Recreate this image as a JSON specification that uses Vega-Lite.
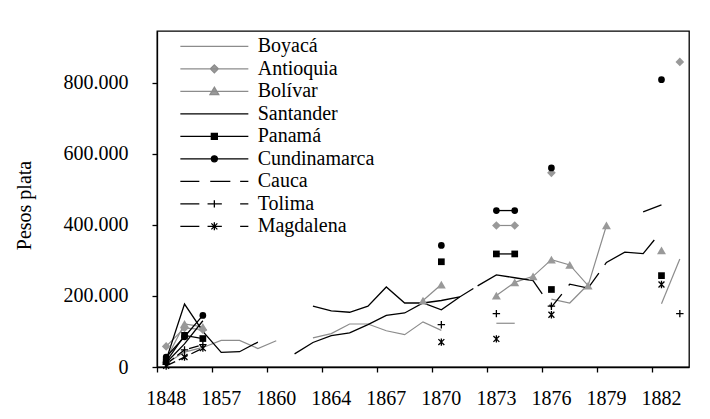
{
  "$schema": "https://vega.github.io/schema/vega-lite/v6.json",
  "width": 532,
  "height": 336,
  "autosize": "none",
  "padding": {"left": 157, "top": 31, "right": 21, "bottom": 52},
  "background": "#ffffff",
  "config": {
    "font": "Liberation Serif",
    "locale": {"number": {"decimal": ",", "thousands": ".", "grouping": [3], "currency": ["$", ""]}},
    "view": {"stroke": "#000000", "strokeWidth": 1.3},
    "axis": {
      "domainColor": "#000000", "tickColor": "#000000", "labelColor": "#000000", "titleColor": "#000000",
      "labelFont": "Liberation Serif", "titleFont": "Liberation Serif",
      "labelFontSize": 20, "titleFontSize": 20, "titleFontWeight": "normal",
      "grid": false, "tickSize": 5, "domainWidth": 1.3, "tickWidth": 1.3
    }
  },
  "data": {"values": [
    {"estado": "Boyacá", "anio": "1848", "valor": 10000, "tramo": 1},
    {"estado": "Boyacá", "anio": "1851", "valor": 42000, "tramo": 1},
    {"estado": "Boyacá", "anio": "1854", "valor": 55000, "tramo": 1},
    {"estado": "Boyacá", "anio": "1857", "valor": 75000, "tramo": 1},
    {"estado": "Boyacá", "anio": "1858", "valor": 75000, "tramo": 1},
    {"estado": "Boyacá", "anio": "1859", "valor": 52000, "tramo": 1},
    {"estado": "Boyacá", "anio": "1860", "valor": 74000, "tramo": 1},
    {"estado": "Boyacá", "anio": "1863", "valor": 82000, "tramo": 2},
    {"estado": "Boyacá", "anio": "1864", "valor": 94000, "tramo": 2},
    {"estado": "Boyacá", "anio": "1865", "valor": 121000, "tramo": 2},
    {"estado": "Boyacá", "anio": "1866", "valor": 121000, "tramo": 2},
    {"estado": "Boyacá", "anio": "1867", "valor": 102000, "tramo": 2},
    {"estado": "Boyacá", "anio": "1868", "valor": 91000, "tramo": 2},
    {"estado": "Boyacá", "anio": "1869", "valor": 127000, "tramo": 2},
    {"estado": "Boyacá", "anio": "1870", "valor": 103000, "tramo": 2},
    {"estado": "Boyacá", "anio": "1873", "valor": 123000, "tramo": 3},
    {"estado": "Boyacá", "anio": "1874", "valor": 123000, "tramo": 3},
    {"estado": "Boyacá", "anio": "1876", "valor": 191000, "tramo": 4},
    {"estado": "Boyacá", "anio": "1877", "valor": 180000, "tramo": 4},
    {"estado": "Boyacá", "anio": "1878", "valor": 232000, "tramo": 4},
    {"estado": "Boyacá", "anio": "1882", "valor": 178000, "tramo": 5},
    {"estado": "Boyacá", "anio": "1883", "valor": 304000, "tramo": 5},
    {"estado": "Antioquia", "anio": "1848", "valor": 58000, "tramo": 1},
    {"estado": "Antioquia", "anio": "1851", "valor": 110000, "tramo": 1},
    {"estado": "Antioquia", "anio": "1854", "valor": 105000, "tramo": 1},
    {"estado": "Antioquia", "anio": "1873", "valor": 398000, "tramo": 2},
    {"estado": "Antioquia", "anio": "1874", "valor": 398000, "tramo": 2},
    {"estado": "Antioquia", "anio": "1876", "valor": 546000, "tramo": 3},
    {"estado": "Antioquia", "anio": "1883", "valor": 858000, "tramo": 4},
    {"estado": "Bolívar", "anio": "1848", "valor": 22000, "tramo": 1},
    {"estado": "Bolívar", "anio": "1851", "valor": 121000, "tramo": 1},
    {"estado": "Bolívar", "anio": "1854", "valor": 113000, "tramo": 1},
    {"estado": "Bolívar", "anio": "1869", "valor": 187000, "tramo": 2},
    {"estado": "Bolívar", "anio": "1870", "valor": 232000, "tramo": 2},
    {"estado": "Bolívar", "anio": "1873", "valor": 201000, "tramo": 3},
    {"estado": "Bolívar", "anio": "1874", "valor": 238000, "tramo": 3},
    {"estado": "Bolívar", "anio": "1875", "valor": 255000, "tramo": 3},
    {"estado": "Bolívar", "anio": "1876", "valor": 302000, "tramo": 3},
    {"estado": "Bolívar", "anio": "1877", "valor": 287000, "tramo": 3},
    {"estado": "Bolívar", "anio": "1878", "valor": 229000, "tramo": 3},
    {"estado": "Bolívar", "anio": "1879", "valor": 398000, "tramo": 3},
    {"estado": "Bolívar", "anio": "1882", "valor": 328000, "tramo": 4},
    {"estado": "Santander", "anio": "1848", "valor": 20000, "tramo": 1},
    {"estado": "Santander", "anio": "1851", "valor": 177000, "tramo": 1},
    {"estado": "Santander", "anio": "1854", "valor": 100000, "tramo": 1},
    {"estado": "Santander", "anio": "1857", "valor": 41000, "tramo": 1},
    {"estado": "Santander", "anio": "1858", "valor": 43000, "tramo": 1},
    {"estado": "Santander", "anio": "1859", "valor": 70000, "tramo": 1},
    {"estado": "Santander", "anio": "1863", "valor": 171000, "tramo": 2},
    {"estado": "Santander", "anio": "1864", "valor": 158000, "tramo": 2},
    {"estado": "Santander", "anio": "1865", "valor": 154000, "tramo": 2},
    {"estado": "Santander", "anio": "1866", "valor": 171000, "tramo": 2},
    {"estado": "Santander", "anio": "1867", "valor": 225000, "tramo": 2},
    {"estado": "Santander", "anio": "1868", "valor": 180000, "tramo": 2},
    {"estado": "Santander", "anio": "1869", "valor": 180000, "tramo": 2},
    {"estado": "Santander", "anio": "1870", "valor": 161000, "tramo": 2},
    {"estado": "Santander", "anio": "1871", "valor": 197000, "tramo": 2},
    {"estado": "Santander", "anio": "1881", "valor": 436000, "tramo": 3},
    {"estado": "Santander", "anio": "1882", "valor": 456000, "tramo": 3},
    {"estado": "Panamá", "anio": "1848", "valor": 15000, "tramo": 1},
    {"estado": "Panamá", "anio": "1851", "valor": 89000, "tramo": 1},
    {"estado": "Panamá", "anio": "1854", "valor": 80000, "tramo": 1},
    {"estado": "Panamá", "anio": "1870", "valor": 296000, "tramo": 2},
    {"estado": "Panamá", "anio": "1873", "valor": 318000, "tramo": 3},
    {"estado": "Panamá", "anio": "1874", "valor": 318000, "tramo": 3},
    {"estado": "Panamá", "anio": "1876", "valor": 218000, "tramo": 4},
    {"estado": "Panamá", "anio": "1882", "valor": 257000, "tramo": 5},
    {"estado": "Cundinamarca", "anio": "1848", "valor": 28000, "tramo": 1},
    {"estado": "Cundinamarca", "anio": "1851", "valor": 85000, "tramo": 1},
    {"estado": "Cundinamarca", "anio": "1854", "valor": 145000, "tramo": 1},
    {"estado": "Cundinamarca", "anio": "1870", "valor": 342000, "tramo": 2},
    {"estado": "Cundinamarca", "anio": "1873", "valor": 440000, "tramo": 3},
    {"estado": "Cundinamarca", "anio": "1874", "valor": 440000, "tramo": 3},
    {"estado": "Cundinamarca", "anio": "1876", "valor": 560000, "tramo": 4},
    {"estado": "Cundinamarca", "anio": "1882", "valor": 808000, "tramo": 5},
    {"estado": "Cauca", "anio": "1848", "valor": 12000, "tramo": 1},
    {"estado": "Cauca", "anio": "1851", "valor": 65000, "tramo": 1},
    {"estado": "Cauca", "anio": "1854", "valor": 130000, "tramo": 1},
    {"estado": "Cauca", "anio": "1862", "valor": 37000, "tramo": 2},
    {"estado": "Cauca", "anio": "1863", "valor": 69000, "tramo": 2},
    {"estado": "Cauca", "anio": "1864", "valor": 88000, "tramo": 2},
    {"estado": "Cauca", "anio": "1865", "valor": 96000, "tramo": 2},
    {"estado": "Cauca", "anio": "1866", "valor": 119000, "tramo": 2},
    {"estado": "Cauca", "anio": "1867", "valor": 145000, "tramo": 2},
    {"estado": "Cauca", "anio": "1868", "valor": 152000, "tramo": 2},
    {"estado": "Cauca", "anio": "1869", "valor": 180000, "tramo": 2},
    {"estado": "Cauca", "anio": "1870", "valor": 187000, "tramo": 2},
    {"estado": "Cauca", "anio": "1871", "valor": 197000, "tramo": 2},
    {"estado": "Cauca", "anio": "1872", "valor": 229000, "tramo": 2},
    {"estado": "Cauca", "anio": "1873", "valor": 259000, "tramo": 2},
    {"estado": "Cauca", "anio": "1874", "valor": 251000, "tramo": 2},
    {"estado": "Cauca", "anio": "1875", "valor": 243000, "tramo": 2},
    {"estado": "Cauca", "anio": "1876", "valor": 168000, "tramo": 2},
    {"estado": "Cauca", "anio": "1877", "valor": 233000, "tramo": 2},
    {"estado": "Cauca", "anio": "1878", "valor": 222000, "tramo": 2},
    {"estado": "Cauca", "anio": "1879", "valor": 294000, "tramo": 2},
    {"estado": "Cauca", "anio": "1880", "valor": 323000, "tramo": 2},
    {"estado": "Cauca", "anio": "1881", "valor": 319000, "tramo": 2},
    {"estado": "Cauca", "anio": "1882", "valor": 382000, "tramo": 2},
    {"estado": "Tolima", "anio": "1848", "valor": 8000, "tramo": 1},
    {"estado": "Tolima", "anio": "1851", "valor": 48000, "tramo": 1},
    {"estado": "Tolima", "anio": "1854", "valor": 63000, "tramo": 1},
    {"estado": "Tolima", "anio": "1870", "valor": 119000, "tramo": 2},
    {"estado": "Tolima", "anio": "1873", "valor": 150000, "tramo": 3},
    {"estado": "Tolima", "anio": "1876", "valor": 171000, "tramo": 4},
    {"estado": "Tolima", "anio": "1883", "valor": 150000, "tramo": 5},
    {"estado": "Magdalena", "anio": "1848", "valor": 3000, "tramo": 1},
    {"estado": "Magdalena", "anio": "1851", "valor": 28000, "tramo": 1},
    {"estado": "Magdalena", "anio": "1854", "valor": 53000, "tramo": 1},
    {"estado": "Magdalena", "anio": "1870", "valor": 70000, "tramo": 2},
    {"estado": "Magdalena", "anio": "1873", "valor": 79000, "tramo": 3},
    {"estado": "Magdalena", "anio": "1876", "valor": 147000, "tramo": 4},
    {"estado": "Magdalena", "anio": "1882", "valor": 232000, "tramo": 5}
  ]},
  "encoding": {
    "x": {
      "field": "anio", "type": "ordinal", "bandPosition": 0.5,
      "scale": {"type": "band", "paddingInner": 0, "paddingOuter": 0,
        "domain": ["1848","1851","1854","1857","1858","1859","1860","1862","1863","1864","1865","1866","1867","1868","1869","1870","1871","1872","1873","1874","1875","1876","1877","1878","1879","1880","1881","1882","1883"]},
      "axis": {"values": ["1848","1857","1860","1864","1867","1870","1873","1876","1879","1882"], "bandPosition": 0, "tickExtra": false, "labelAngle": 0, "title": null, "labelPadding": 16, "labelFont": "Liberation Serif", "labelFontSize": 20, "labelColor": "#000000"}
    },
    "y": {
      "field": "valor", "type": "quantitative",
      "scale": {"domain": [0, 945000], "nice": false, "zero": true},
      "axis": {"values": [0, 200000, 400000, 600000, 800000], "format": ",d", "labelPadding": 24, "title": "Pesos plata", "titlePadding": 29, "titleY": 174, "labelFont": "Liberation Serif", "labelFontSize": 20, "labelColor": "#000000", "titleFont": "Liberation Serif", "titleFontSize": 20, "titleFontWeight": "normal", "titleColor": "#000000"}
    }
  },
  "layer": [
    {
      "transform": [{"filter": {"field": "estado", "oneOf": ["Boyacá", "Antioquia", "Bolívar"]}}],
      "mark": {"type": "line", "color": "#8c8c8c", "strokeWidth": 1.2},
      "encoding": {"detail": [{"field": "estado"}, {"field": "tramo"}]}
    },
    {
      "transform": [{"filter": {"field": "estado", "oneOf": ["Santander", "Panamá", "Cundinamarca"]}}],
      "mark": {"type": "line", "color": "#000000", "strokeWidth": 1.3},
      "encoding": {"detail": [{"field": "estado"}, {"field": "tramo"}]}
    },
    {
      "transform": [{"filter": {"field": "estado", "equal": "Cauca"}}],
      "mark": {"type": "line", "color": "#000000", "strokeWidth": 1.3, "strokeDash": [193, 5, 75, 13, 20, 11, 39, 10, 60, 20]},
      "encoding": {"detail": [{"field": "tramo"}]}
    },
    {
      "transform": [{"filter": {"field": "estado", "oneOf": ["Tolima", "Magdalena"]}}],
      "mark": {"type": "line", "color": "#000000", "strokeWidth": 1.3, "strokeDash": [10, 4]},
      "encoding": {"detail": [{"field": "estado"}, {"field": "tramo"}]}
    },
    {
      "transform": [{"filter": {"field": "estado", "equal": "Antioquia"}}],
      "mark": {"type": "point", "shape": "diamond", "filled": true, "color": "#999999", "size": 75, "opacity": 1}
    },
    {
      "transform": [{"filter": {"field": "estado", "equal": "Bolívar"}}],
      "mark": {"type": "point", "shape": "triangle-up", "filled": true, "color": "#999999", "size": 80, "opacity": 1}
    },
    {
      "transform": [{"filter": {"field": "estado", "equal": "Panamá"}}],
      "mark": {"type": "point", "shape": "square", "filled": true, "color": "#000000", "size": 45, "opacity": 1}
    },
    {
      "transform": [{"filter": {"field": "estado", "equal": "Cundinamarca"}}],
      "mark": {"type": "point", "shape": "circle", "filled": true, "color": "#000000", "size": 45, "opacity": 1}
    },
    {
      "transform": [{"filter": {"field": "estado", "equal": "Tolima"}}],
      "mark": {"type": "point", "shape": "M-1,0H1M0,-1V1", "filled": false, "color": "#000000", "strokeWidth": 1.3, "size": 55, "opacity": 1}
    },
    {
      "transform": [{"filter": {"field": "estado", "equal": "Magdalena"}}],
      "mark": {"type": "point", "shape": "M-0.8,-0.8L0.8,0.8M-0.8,0.8L0.8,-0.8M0,-1V1", "filled": false, "color": "#000000", "strokeWidth": 1.3, "size": 55, "opacity": 1}
    },
    {
      "transform": [{"filter": "false"}],
      "mark": {"type": "point", "filled": true, "opacity": 1, "strokeWidth": 1.3},
      "encoding": {
        "x": null,
        "y": null,
        "shape": {
          "field": "estado", "type": "nominal",
          "scale": {
            "domain": ["Boyacá", "Antioquia", "Bolívar", "Santander", "Panamá", "Cundinamarca", "Cauca", "Tolima", "Magdalena"],
            "range": [
              "M-3.4,0H3.4",
              "M-3.4,0H3.4M0,-0.4L0.4,0L0,0.4L-0.4,0Z",
              "M-3.4,0H3.4M0,-0.42L0.44,0.32L-0.44,0.32Z",
              "M-3.4,0H3.4",
              "M-3.4,0H3.4M-0.3,-0.3H0.3V0.3H-0.3Z",
              "M-3.4,0H3.4M0.3,0A0.3,0.3,0,1,1,-0.3,0A0.3,0.3,0,1,1,0.3,0Z",
              "M-3.4,0H-1.5M-0.41,0H1.6M2.58,0H3.4",
              "M-3.4,0H-1.5M-0.68,0H0.75M0,-0.37V0.37M2.58,0H3.4",
              "M-3.4,0H-1.5M-0.68,0H0.75M-0.3,-0.3L0.3,0.3M-0.3,0.3L0.3,-0.3M0,-0.4V0.4M2.58,0H3.4"
            ]
          },
          "legend": {"title": null, "orient": "none", "legendX": 46.35, "legendY": 4.35, "padding": 0, "symbolSize": 400, "symbolStrokeWidth": 1.3, "labelFont": "Liberation Serif", "labelFontSize": 20, "labelColor": "#000000", "labelOffset": 32.35, "rowPadding": 1.5, "labelLimit": 300}
        },
        "fill": {
          "field": "estado", "type": "nominal",
          "scale": {
            "domain": ["Boyacá", "Antioquia", "Bolívar", "Santander", "Panamá", "Cundinamarca", "Cauca", "Tolima", "Magdalena"],
            "range": ["#8c8c8c", "#999999", "#999999", "#000000", "#000000", "#000000", "#000000", "#000000", "#000000"]
          },
          "legend": {"title": null, "orient": "none", "legendX": 46.35, "legendY": 4.35, "padding": 0, "symbolSize": 400, "symbolStrokeWidth": 1.3, "labelFont": "Liberation Serif", "labelFontSize": 20, "labelColor": "#000000", "labelOffset": 32.35, "rowPadding": 1.5, "labelLimit": 300}
        },
        "stroke": {
          "field": "estado", "type": "nominal",
          "scale": {
            "domain": ["Boyacá", "Antioquia", "Bolívar", "Santander", "Panamá", "Cundinamarca", "Cauca", "Tolima", "Magdalena"],
            "range": ["#8c8c8c", "#8c8c8c", "#8c8c8c", "#000000", "#000000", "#000000", "#000000", "#000000", "#000000"]
          },
          "legend": {"title": null, "orient": "none", "legendX": 46.35, "legendY": 4.35, "padding": 0, "symbolSize": 400, "symbolStrokeWidth": 1.3, "labelFont": "Liberation Serif", "labelFontSize": 20, "labelColor": "#000000", "labelOffset": 32.35, "rowPadding": 1.5, "labelLimit": 300}
        }
      }
    }
  ]
}
